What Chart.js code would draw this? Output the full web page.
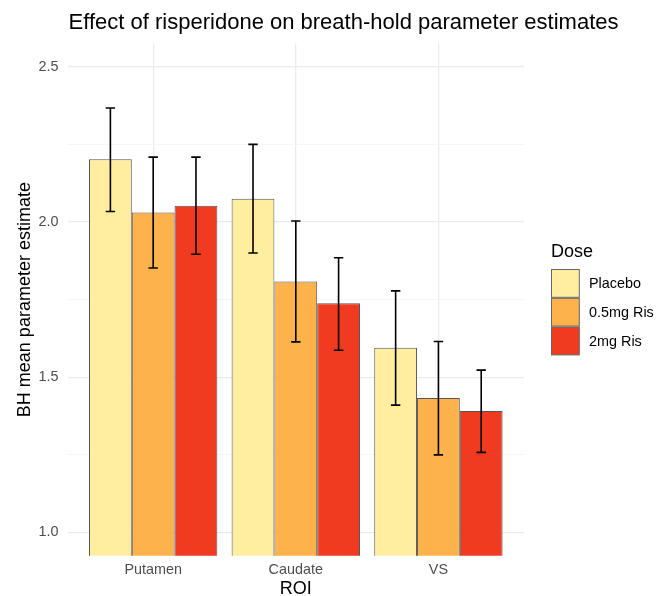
<!DOCTYPE html>
<html lang="en">
<head>
  <meta charset="UTF-8">
  <title>Effect of risperidone on breath-hold parameter estimates</title>
  <script src="https://cdn.jsdelivr.net/npm/chart.js"></script>
  <style>
    body { margin: 0; background: white; }
    #wrap { width: 668px; height: 596px; }
  </style>
</head>
<body>
  <div id="wrap"><canvas id="chart" width="668" height="596"></canvas></div>
  <script>
    // data
    const rois = ['Putamen', 'Caudate', 'VS'];
    const doses = ['Placebo', '0.5mg Ris', '2mg Ris'];
    const doseColors = ['#FFEDA0', '#FEB24C', '#F03B20'];

    const placeboMean = [2.202, 2.075, 1.595];
    const ris05Mean = [2.031, 1.808, 1.433];
    const ris2Mean = [2.052, 1.738, 1.391];

    const placeboUpper = [2.367, 2.250, 1.778];
    const placeboLower = [2.034, 1.900, 1.410];
    const ris05Upper = [2.209, 2.003, 1.615];
    const ris05Lower = [1.852, 1.614, 1.250];
    const ris2Upper = [2.209, 1.885, 1.523];
    const ris2Lower = [1.896, 1.587, 1.258];

    const yTicks = [1.0, 1.25, 1.5, 1.75, 2.0, 2.25, 2.5];

    const chartTitle = 'Effect of risperidone on breath-hold parameter estimates';

    const means = [placeboMean, ris05Mean, ris2Mean];
    const uppers = [placeboUpper, ris05Upper, ris2Upper];
    const lowers = [placeboLower, ris05Lower, ris2Lower];

    const FONT = "'Liberation Sans', Arial, sans-serif";
    const isMajor = v => Math.abs(v * 2 - Math.round(v * 2)) < 1e-6;

    // ggplot-style title, left aligned with the panel
    const panelTitle = {
      id: 'panelTitle',
      afterDraw(chart) {
        const ctx = chart.ctx;
        ctx.save();
        ctx.fillStyle = '#000';
        ctx.font = '22px ' + FONT;
        ctx.textAlign = 'left';
        ctx.textBaseline = 'alphabetic';
        ctx.fillText(chartTitle, chart.chartArea.left + 1, 29);
        ctx.restore();
      }
    };

    const errorBars = {
      id: 'errorBars',
      afterDatasetsDraw(chart) {
        const ctx = chart.ctx;
        const y = chart.scales.y;
        ctx.save();
        ctx.strokeStyle = '#000';
        ctx.lineWidth = 1.6;
        chart.data.datasets.forEach((ds, i) => {
          chart.getDatasetMeta(i).data.forEach((bar, j) => {
            const top = y.getPixelForValue(uppers[i][j]);
            const bot = y.getPixelForValue(lowers[i][j]);
            const half = 4.7;
            ctx.beginPath();
            ctx.moveTo(bar.x, top); ctx.lineTo(bar.x, bot);
            ctx.moveTo(bar.x - half, top); ctx.lineTo(bar.x + half, top);
            ctx.moveTo(bar.x - half, bot); ctx.lineTo(bar.x + half, bot);
            ctx.stroke();
          });
        });
        ctx.restore();
      }
    };

    const doseLegend = {
      id: 'doseLegend',
      afterDraw(chart) {
        const ctx = chart.ctx;
        const left = 551, top0 = 269, key = 28.8;
        ctx.save();
        ctx.fillStyle = '#000';
        ctx.font = '18px ' + FONT;
        ctx.textBaseline = 'alphabetic';
        ctx.textAlign = 'left';
        ctx.fillText('Dose', left, 257);
        ctx.font = '14.4px ' + FONT;
        ctx.textBaseline = 'middle';
        doses.forEach((d, i) => {
          const ty = top0 + i * key;
          ctx.fillStyle = doseColors[i];
          ctx.fillRect(left + 0.5, ty + 0.5, key - 1, key - 1);
          ctx.strokeStyle = '#666';
          ctx.lineWidth = 1;
          ctx.strokeRect(left + 0.5, ty + 0.5, key - 1, key - 1);
          ctx.fillStyle = '#000';
          ctx.fillText(d, 589, ty + key / 2 + 1);
        });
        ctx.restore();
      }
    };

    new Chart(document.getElementById('chart'), {
      type: 'bar',
      data: {
        datasets: doses.map((d, i) => ({
          label: d,
          data: means[i].map((v, j) => ({ x: j, y: v })),
          backgroundColor: doseColors[i],
          borderColor: '#555',
          borderWidth: 1,
          borderSkipped: false,
          categoryPercentage: 0.9,
          barPercentage: 1.0
        }))
      },
      options: {
        responsive: false,
        animation: false,
        layout: { padding: { left: 0, right: 144, top: 43.5, bottom: 0 } },
        plugins: {
          legend: { display: false },
          tooltip: { enabled: false },
          title: { display: false }
        },
        scales: {
          x: {
            type: 'linear',
            min: -0.6,
            max: 2.6,
            offset: false,
            afterBuildTicks: axis => { axis.ticks = rois.map((r, i) => ({ value: i })); },
            ticks: {
              callback: v => rois[v],
              color: '#4d4d4d',
              font: { family: FONT, size: 14.4 },
              padding: 6,
              maxRotation: 0
            },
            grid: { offset: false, color: '#ebebeb', lineWidth: 1.3, drawTicks: false, tickLength: 0 },
            border: { display: false },
            title: {
              display: true,
              text: 'ROI',
              color: '#000',
              font: { family: FONT, size: 18, lineHeight: 1.0 },
              padding: { top: -5, bottom: -2 }
            }
          },
          y: {
            min: 0.925,
            max: 2.575,
            afterBuildTicks: axis => { axis.ticks = yTicks.map(v => ({ value: v })); },
            ticks: {
              callback: v => (isMajor(v) ? v.toFixed(1) : ''),
              color: '#4d4d4d',
              font: { family: FONT, size: 14.4 },
              padding: 9
            },
            grid: {
              drawTicks: false,
              tickLength: 0,
              color: c => (isMajor(c.tick.value) ? '#ebebeb' : '#f4f4f4'),
              lineWidth: c => (isMajor(c.tick.value) ? 1.3 : 0.8)
            },
            border: { display: false },
            title: {
              display: true,
              text: 'BH mean parameter estimate',
              color: '#000',
              font: { family: FONT, size: 18, lineHeight: 1.2 },
              padding: { top: 14, bottom: -6 }
            }
          }
        }
      },
      plugins: [errorBars, doseLegend, panelTitle]
    });
  </script>
</body>
</html>
